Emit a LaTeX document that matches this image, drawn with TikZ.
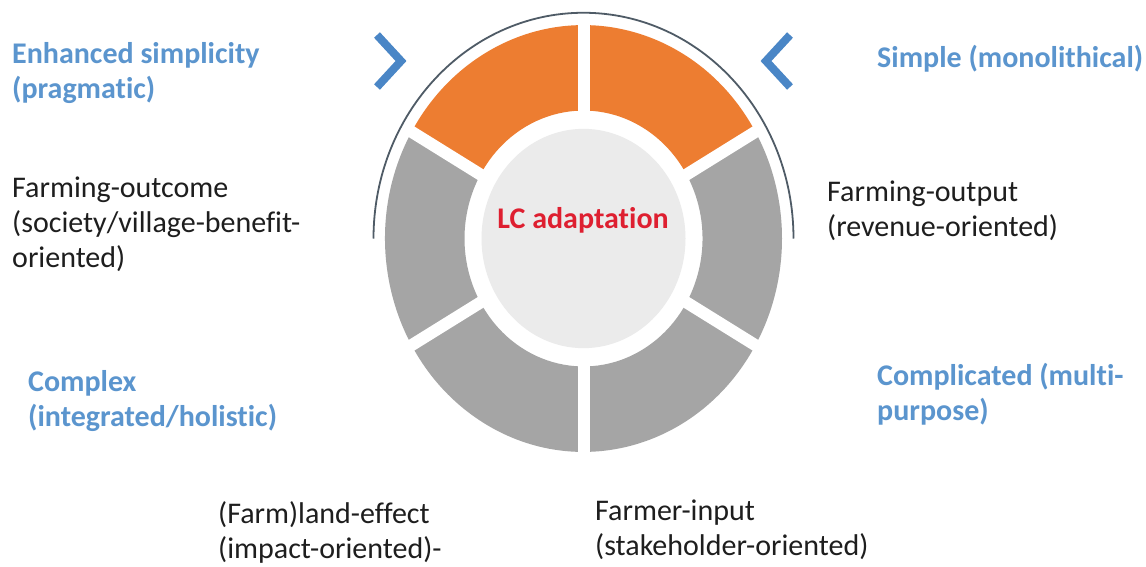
\documentclass[tikz,border=0pt]{standalone}
\usepackage{fontspec}
\setmainfont{Carlito}[Ligatures={NoCommon}]
\definecolor{orng}{HTML}{ED7D31}
\definecolor{segray}{HTML}{A5A5A5}
\definecolor{discgray}{HTML}{EBEBEB}
\definecolor{lblue}{HTML}{5B95CE}
\definecolor{chevblue}{HTML}{4A86C6}
\definecolor{lcred}{HTML}{DE1F30}
\definecolor{arcgray}{HTML}{4F5B66}
\definecolor{txt}{HTML}{1E1E1E}
\tikzset{
  lbl/.style={anchor=base west, inner sep=0pt, align=left, font=\fontsize{30}{35}\selectfont, text=txt},
  bluelbl/.style={lbl, text=lblue, font=\bfseries\fontsize{30}{35}\selectfont},
  chev/.style={chevblue, line width=8pt, line join=miter, line cap=butt},
  gap/.style={white, line width=12pt}
}
\begin{document}
\begin{tikzpicture}[x=1pt,y=-1pt]
\useasboundingbox (0,0) rectangle (1146,566);
\fill[white] (0,0) rectangle (1146,566);
\begin{scope}[shift={(583.5,238.5)}, yscale=-1.075]
  \fill[orng] (30:198.5) arc[start angle=30,end angle=150,radius=198.5] -- (150:119) arc[start angle=150,end angle=30,radius=119] -- cycle;
  \fill[segray] (150:198.5) arc[start angle=150,end angle=390,radius=198.5] -- (30:119) arc[start angle=390,end angle=150,radius=119] -- cycle;
  \foreach \a in {30,90,150,210,270,330} \draw[gap] (\a:110) -- (\a:205);
  \fill[discgray] (0,0) circle (102);
  \draw[arcgray, line width=1.8pt] (180:210) arc[start angle=180,end angle=0,radius=210];
\end{scope}
\node[font=\bfseries\fontsize{30}{35}\selectfont, text=lcred, inner sep=0pt] (lc) at (583,220) {LC adaptation};
\draw[chev] (377,35) -- (401,61) -- (377,87);
\draw[chev] (790,35) -- (766,61) -- (790,87);
\node[bluelbl] (enh) at (12,98) {Enhanced simplicity\\(pragmatic)};
\node[bluelbl] (simple) at (877,67) {Simple (monolithical)};
\node[lbl] (fout) at (12,267) {Farming-outcome\\(society/village-benefit-\\oriented)};
\node[lbl] (fput) at (827,236) {Farming-output\\(revenue-oriented)};
\node[bluelbl] (cplx) at (28,426) {Complex\\(integrated/holistic)};
\node[bluelbl] (cplc) at (877,420) {Complicated (multi-\\purpose)};
\node[lbl] (land) at (218,558) {(Farm)land-effect\\(impact-oriented)-};
\node[lbl] (inp) at (595,555) {Farmer-input\\(stakeholder-oriented)};
\end{tikzpicture}
\end{document}
